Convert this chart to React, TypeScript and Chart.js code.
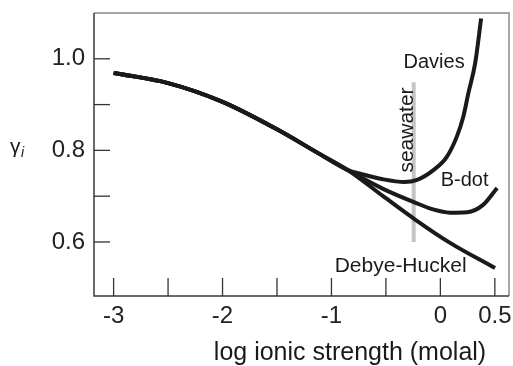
import React, { useEffect, useRef } from "react";
import { Chart, registerables } from "chart.js";

Chart.register(...registerables);

// Shared low-ionic-strength portion (all three models coincide)
const sharedX = [-3, -2.5, -2, -1.5, -1.123, -0.85];
const sharedY = [0.969, 0.947, 0.906, 0.846, 0.794, 0.757];

const daviesX = [-0.72, -0.53, -0.33, -0.22, -0.064, 0.059, 0.151, 0.211, 0.257, 0.319, 0.374];
const daviesY = [0.748, 0.737, 0.731, 0.735, 0.757, 0.786, 0.83, 0.874, 0.925, 0.99, 1.088];

const bdotX = [-0.526, -0.232, -0.067, 0.089, 0.245, 0.392, 0.521];
const bdotY = [0.716, 0.686, 0.671, 0.664, 0.665, 0.681, 0.718];

const debyeX = [-0.526, -0.232, 0.089, 0.502];
const debyeY = [0.7, 0.649, 0.598, 0.543];

const seawaterX = -0.245;
const seawaterY = [0.6, 0.949];

const xTickValues = [-3, -2.5, -2, -1.5, -1, -0.5, 0, 0.5];
const xTickLabels = ["-3", "", "-2", "", "-1", "", "0", "0.5"];
const yTickValues = [0.6, 0.7, 0.8, 0.9, 1.0];
const yTickLabels = ["0.6", "", "0.8", "", "1.0"];

const curveLabels = ["Davies", "B-dot", "Debye-Huckel"];
const seawaterLabel = "seawater";
const xTitle = "log ionic strength (molal)";
const yTitleMain = "γ";
const yTitleSub = "i";

const FONT = "'Liberation Sans', Arial, Helvetica, sans-serif";

const toPts = (xs: number[], ys: number[]) => xs.map((x, i) => ({ x, y: ys[i] }));

const decorPlugin = {
  id: "decor",
  afterDatasetsDraw(chart: any) {
    const ctx = chart.ctx;
    const { left, top, right, bottom } = chart.chartArea;
    const xs = chart.scales.x;
    const ys = chart.scales.y;
    ctx.save();
    // frame
    ctx.lineWidth = 1.5;
    ctx.strokeStyle = "#8a8a8a";
    ctx.beginPath();
    ctx.moveTo(left, top);
    ctx.lineTo(right, top);
    ctx.lineTo(right, bottom);
    ctx.stroke();
    ctx.strokeStyle = "#3a3a3a";
    ctx.beginPath();
    ctx.moveTo(left, top);
    ctx.lineTo(left, bottom);
    ctx.lineTo(right, bottom);
    ctx.stroke();
    // inward ticks
    ctx.lineWidth = 1.3;
    ctx.strokeStyle = "#333";
    yTickValues.forEach((v) => {
      const py = ys.getPixelForValue(v);
      ctx.beginPath();
      ctx.moveTo(left, py);
      ctx.lineTo(left + 16, py);
      ctx.stroke();
    });
    xTickValues.forEach((v) => {
      const px = xs.getPixelForValue(v);
      ctx.beginPath();
      ctx.moveTo(px, bottom);
      ctx.lineTo(px, bottom - 18);
      ctx.stroke();
    });
    // curve labels
    ctx.fillStyle = "#1a1a1a";
    ctx.textAlign = "center";
    ctx.textBaseline = "alphabetic";
    ctx.font = `20px ${FONT}`;
    ctx.fillText(curveLabels[0], xs.getPixelForValue(-0.058), ys.getPixelForValue(0.98));
    ctx.fillText(curveLabels[1], xs.getPixelForValue(0.222), ys.getPixelForValue(0.722));
    ctx.font = `21px ${FONT}`;
    ctx.fillText(curveLabels[2], xs.getPixelForValue(-0.365), ys.getPixelForValue(0.534));
    // seawater rotated
    ctx.save();
    ctx.translate(xs.getPixelForValue(seawaterX) - 1, ys.getPixelForValue(0.8445));
    ctx.rotate(-Math.PI / 2);
    ctx.font = `21px ${FONT}`;
    ctx.fillText(seawaterLabel, 0, 0);
    ctx.restore();
    // x title
    ctx.font = `25px ${FONT}`;
    ctx.fillText(xTitle, 350, 360);
    // y title gamma_i
    const gy = ys.getPixelForValue(0.8) + 3;
    ctx.textAlign = "left";
    ctx.font = `21px ${FONT}`;
    ctx.fillText(yTitleMain, 10, gy);
    ctx.font = `italic 14px ${FONT}`;
    ctx.fillText(yTitleSub, 21, gy + 4);
    ctx.restore();
  },
};

export default function App() {
  const ref = useRef<HTMLCanvasElement>(null);
  useEffect(() => {
    if (!ref.current) return;
    const lineStyle = {
      borderColor: "#1a1a1a",
      borderWidth: 4,
      pointRadius: 0,
      cubicInterpolationMode: "monotone" as const,
      fill: false,
      order: 1,
    };
    const chart = new Chart(ref.current, {
      type: "line",
      data: {
        datasets: [
          { ...lineStyle, label: curveLabels[0], data: toPts([...sharedX, ...daviesX], [...sharedY, ...daviesY]) },
          { ...lineStyle, label: curveLabels[1], data: toPts([...sharedX, ...bdotX], [...sharedY, ...bdotY]) },
          { ...lineStyle, label: curveLabels[2], data: toPts([...sharedX, ...debyeX], [...sharedY, ...debyeY]) },
          {
            label: seawaterLabel,
            data: seawaterY.map((y) => ({ x: seawaterX, y })),
            borderColor: "#c4c4c4",
            borderWidth: 4,
            pointRadius: 0,
            order: 10,
          },
        ],
      },
      options: {
        responsive: false,
        animation: false,
        layout: { padding: { top: 13, right: 4, left: 0, bottom: 0 } },
        plugins: { legend: { display: false }, tooltip: { enabled: false } },
        scales: {
          x: {
            type: "linear",
            min: -3.18,
            max: 0.63,
            grid: { display: false, drawTicks: false },
            border: { display: false },
            afterBuildTicks: (s: any) => {
              s.ticks = xTickValues.map((value) => ({ value }));
            },
            afterFit: (s: any) => {
              s.height = 70;
              s.paddingLeft = 0;
              s.paddingRight = 0;
            },
            ticks: {
              autoSkip: false,
              maxRotation: 0,
              padding: 6,
              color: "#222",
              font: { family: FONT, size: 24 },
              callback: (v: any) => {
                const i = xTickValues.findIndex((t) => Math.abs(t - Number(v)) < 1e-6);
                return i >= 0 ? xTickLabels[i] : "";
              },
            },
          },
          y: {
            type: "linear",
            min: 0.482,
            max: 1.1,
            grid: { display: false, drawTicks: false },
            border: { display: false },
            afterBuildTicks: (s: any) => {
              s.ticks = yTickValues.map((value) => ({ value }));
            },
            afterFit: (s: any) => {
              s.width = 94;
              s.paddingTop = 0;
              s.paddingBottom = 0;
            },
            ticks: {
              autoSkip: false,
              padding: 9,
              color: "#222",
              font: { family: FONT, size: 24 },
              callback: (v: any) => {
                const i = yTickValues.findIndex((t) => Math.abs(t - Number(v)) < 1e-6);
                return i >= 0 ? yTickLabels[i] : "";
              },
            },
          },
        },
      },
      plugins: [decorPlugin],
    });
    return () => chart.destroy();
  }, []);
  return (
    <div style={{ position: "fixed", left: 0, top: 0, width: 513, height: 366, background: "#fff" }}>
      <canvas ref={ref} width={513} height={366} style={{ display: "block" }} />
    </div>
  );
}
